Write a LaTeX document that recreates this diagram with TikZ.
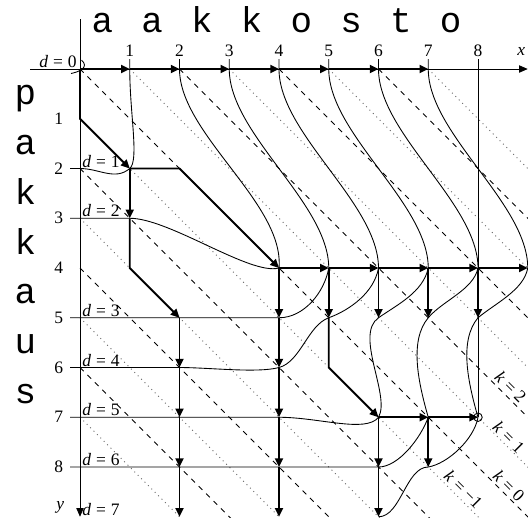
\documentclass[tikz,border=0pt]{standalone}
\usepackage{fontspec}
\setmainfont{Liberation Serif}
\newfontfamily\seqfont{Liberation Mono}
\usetikzlibrary{arrows.meta}

\newcommand\eqlbl[2]{\textit{#1}\hspace{0.28em}=\hspace{0.28em}#2}

\begin{document}
\begin{tikzpicture}[
    mv/.style={line width=1.1pt, line join=round, -{Triangle[length=5pt,width=4.6pt]}},
    front/.style={line width=0.5pt},
    axis/.style={line width=0.5pt, -{Triangle[length=5pt,width=4.2pt]}},
    evendiag/.style={line width=0.45pt, dash pattern=on 3pt off 3pt},
    odddiag/.style={line width=0.55pt, black!60, dash pattern=on 0.55pt off 2.2pt},
    seq/.style={font=\seqfont\fontsize{20.5}{20.5}\selectfont, inner sep=0pt, anchor=base},
    num/.style={inner sep=0pt}
]
\useasboundingbox (-1.608,1.387) rectangle (9.005,-9.005);
\clip (-1.608,1.387) rectangle (9.005,-9.005);

% grid points, ends of the fronts
\foreach \i in {0,...,9}
  \foreach \j in {0,...,9}
    \coordinate (g\i-\j) at (\i,-\j);
\foreach \i in {0,...,8} \coordinate (t\i) at (\i,0.2);
\foreach \j in {0,...,9} \coordinate (l\j) at (-0.2,-\j);
\coordinate (xs) at (-1,0);
\coordinate (xe) at (9,0);
\coordinate (ys) at (0,1);
\coordinate (ye) at (0,-9);

% diagonals k
\foreach \k in {-7,...,7}{
  \pgfmathtruncatemacro\kodd{mod(abs(\k),2)}
  \pgfmathtruncatemacro\kx{max(\k,0)}
  \pgfmathtruncatemacro\ky{max(-\k,0)}
  \ifnum\kodd=0
    \draw[evendiag] (g\kx-\ky) -- ++(10,-10);
  \else
    \draw[odddiag] (g\kx-\ky) -- ++(10,-10);
  \fi
}

% axes
\draw[axis] (xs) -- (xe);
\draw[axis] (ys) -- (ye);
\draw[front] (t8) -- (g8-7);
\draw[front] (g8-7) circle (0.085);

% fronts d = 0..7
\draw[front] (-0.18,-0.09) .. controls (-0.03,-0.06) and (0.2,0.03) .. (0.03,0.18);
\draw[front] (l2) -- (g0-2) .. controls +(0:0.39) and +(220:0.39) .. (g1-2)
  .. controls +(40:0.25) and +(-90:0.9) .. (g1-0) -- (t1);
\draw[front] (l3) -- (g1-3) .. controls +(0:0.8) and +(195:0.6) .. (g4-4)
  .. controls +(85:1.3) and +(-90:1.3) .. (g2-0) -- (t2);
\draw[front] (l5) -- (g4-5) .. controls +(0:0.5) and +(260:0.5) .. (g5-4)
  .. controls +(90:1.3) and +(-90:1.3) .. (g3-0) -- (t3);
\draw[front] (l6) -- (g2-6) .. controls +(0:0.6) and +(195:0.45) .. (g4-6)
  .. controls +(15:0.45) and +(200:0.45) .. (g5-5)
  .. controls +(20:0.45) and +(260:0.5) .. (g6-4)
  .. controls +(90:1.3) and +(-90:1.3) .. (g4-0) -- (t4);
\draw[front] (l7) -- (g4-7) .. controls +(0:0.8) and +(232:0.41) .. (g6-7)
  .. controls +(60:0.5) and +(215:0.6) .. (g6-5)
  .. controls +(35:0.45) and +(258:0.5) .. (g7-4)
  .. controls +(90:1.3) and +(-90:1.3) .. (g5-0) -- (t5);
\draw[front] (l8) -- (g6-8) .. controls +(0:0.4) and +(250:0.45) .. (g7-7)
  .. controls +(106:0.73) and +(230:0.6) .. (g7-5)
  .. controls +(50:0.45) and +(258:0.45) .. (g8-4)
  .. controls +(90:1.3) and +(-90:1.3) .. (g6-0) -- (t6);
\draw[front] (g6-9) .. controls +(0:0.45) and +(180:0.45) .. (g7-8)
  .. controls +(10:0.4) and +(260:0.45) .. (g8-7)
  .. controls +(106:0.73) and +(230:0.6) .. (g8-5)
  .. controls +(40:0.45) and +(260:0.45) .. (g9-4)
  .. controls +(90:1.3) and +(-90:1.3) .. (g7-0) -- (t7);

% moves
\foreach \i [count=\j] in {0,...,6} \draw[mv] (g\i-0) -- (g\j-0);
\draw[mv] (g0-0) -- (g0-1) -- (g1-2);
\draw[mv] (g1-2) -- (g2-2) -- (g4-4);
\draw[mv] (g1-2) -- (g1-3);
\draw[mv] (g1-3) -- (g1-4) -- (g2-5);
\foreach \a [count=\b from 6] in {5,...,8} \draw[mv] (g2-\a) -- (g2-\b);
\foreach \a [count=\b from 5] in {4,...,8}{
  \draw[mv] (g4-\a) -- (g4-\b);
  \draw[mv] (g\a-4) -- (g\b-4);
}
\draw[mv] (g5-4) -- (g5-5);
\draw[mv] (g5-5) -- (g5-6) -- (g6-7);
\draw[mv] (g6-4) -- (g6-5);
\draw[mv] (g7-4) -- (g7-5);
\draw[mv] (g8-4) -- (g8-5);
\draw[mv] (g6-7) -- (g6-8);
\draw[mv] (g6-8) -- (g6-9);
\draw[mv] (g6-7) -- (g7-7);
\draw[mv] (g7-7) -- (g8-7);
\draw[mv] (g7-7) -- (g7-8);

% sequences
\foreach \c [count=\i] in {a,a,k,k,o,s,t,o}
  \node[seq] (sa\i) at (\i-0.55,0.74) {\c};
\foreach \c [count=\i] in {p,a,k,k,a,u,s}
  \node[seq] (sb\i) at (-1.1,0.28-\i) {\c};

% axis labels
\foreach \i in {1,...,8} \node[num, anchor=base] (xt\i) at (\i,0.26) {\i};
\node[num, anchor=base] (xl) at (8.87,0.27) {\textit{x}};
\foreach \j in {1,...,8} \node[num, anchor=east] (yt\j) at (-0.33,-\j) {\j};
\node[num, anchor=base east] (yl) at (-0.31,-8.86) {\textit{y}};

% d labels
\node[num, anchor=base east] (d0) at (-0.06,0.04) {\eqlbl{d}{0}};
\foreach \d/\r in {1/2,2/3,3/5,4/6,5/7,6/8,7/9}
  \node[num, anchor=base west] (d\d) at (0.04,0.03-\r) {\eqlbl{d}{\d}};

% k labels
\node[num, rotate=-45] (k2) at (8.66,-6.39) {\eqlbl{k}{2}};
\node[num, rotate=-45] (k1) at (8.62,-7.40) {\eqlbl{k}{1}};
\node[num, rotate=-45] (k0) at (8.62,-8.38) {\eqlbl{k}{0}};
\node[num, rotate=-45] (km1) at (7.71,-8.45) {\eqlbl{k}{−1}};
\end{tikzpicture}
\end{document}
